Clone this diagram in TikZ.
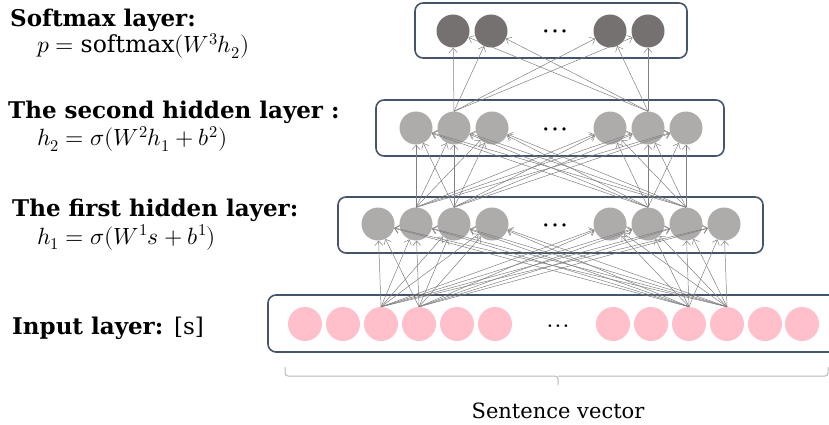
\documentclass[tikz,border=0pt]{standalone}
\usepackage{fontspec}
\usepackage{unicode-math}
\setmainfont{DejaVu Serif}
\setmathfont{Latin Modern Math}
\usetikzlibrary{arrows.meta}
\newcommand\unitdots{\textbullet\hspace{2.6pt}\textbullet\hspace{2.6pt}\textbullet}
\begin{document}
\begin{tikzpicture}[x = 1pt, y = -1pt]
\definecolor{boxblue}{RGB}{68,84,106}
\definecolor{softgray}{RGB}{118,113,113}
\definecolor{hidgray}{RGB}{174,171,171}
\definecolor{inpink}{RGB}{255,192,203}
\definecolor{linkgray}{RGB}{128,128,128}
\definecolor{bracegray}{RGB}{185,185,185}
\tikzset{
  layerbox/.style = {draw = boxblue, line width = 1.6pt, rounded corners = 8pt},
  unit/.style = {circle, inner sep = 0pt, minimum size = 33pt},
  link/.style = {-{Straight Barb[length = 4.5pt, width = 8pt]}, draw = linkgray, line width = 0.5pt},
  heading/.style = {anchor = base west, inner sep = 0pt, font = \bfseries\fontsize{23}{23}\selectfont},
  formula/.style = {anchor = base west, inner sep = 0pt, font = \fontsize{23.5}{23.5}\selectfont},
  dots/.style = {inner sep = 0pt, font = \fontsize{11}{11}\selectfont}
}
\useasboundingbox (0,0) rectangle (829,425);
% layer boxes
\draw [layerbox] (415,3) rectangle (687,58);
\draw [layerbox] (376,100) rectangle (724,156);
\draw [layerbox] (338,197) rectangle (763,253);
\draw [layerbox] (268,295) rectangle (840,352);
% units
\foreach \px [count = \n] in {453,491,610,648} \node [unit, fill = softgray] (s\n) at (\px,31) {};
\foreach \px [count = \n] in {416,454,492,610,648,686} \node [unit, fill = hidgray] (b\n) at (\px,128) {};
\foreach \px [count = \n] in {378,416,454,492,610,648,686,724} \node [unit, fill = hidgray] (a\n) at (\px,224) {};
\foreach \px [count = \n] in {305,343,381,419,457,495,613,651,689,727,765,802} \node [unit, fill = inpink, minimum size = 34pt] (x\n) at (\px,324) {};
\node [dots] (sdots) at (555,33) {\unitdots};
\node [dots] (bdots) at (555,131) {\unitdots};
\node [dots] (adots) at (555,227) {\unitdots};
\node [dots, font = \fontsize{9}{9}\selectfont] (xdots) at (558,327) {\unitdots};
% connections
\foreach \i in {3,4,9,10} \foreach \j in {1,...,8} \draw [link] (x\i.north) -- (a\j);
\foreach \i in {2,3,6,7} \foreach \j in {1,...,6} \draw [link] (a\i.north) -- (b\j);
\foreach \i in {2,5} \foreach \j in {1,...,4} \draw [link] (b\i.north) -- (s\j);
% labels
\node [heading] (softlabel) at (10,27) {Softmax layer:};
\node [formula] (softeq) at (37,53) {$p = \mathrm{softmax}(W^3 h_2)$};
\node [heading] (seclabel) at (8,118) {The second hidden layer :};
\node [formula] (seceq) at (37,146) {$h_2 = \sigma(W^2 h_1 + b^2)$};
\node [heading] (firstlabel) at (12,216) {The first hidden layer:};
\node [formula] (firsteq) at (37,244) {$h_1 = \sigma(W^1 s + b^1)$};
\node [heading] (inlabel) at (12,334) {Input layer: \textmd{[s]}};
% brace
\draw [draw = bracegray, line width = 1pt, rounded corners = 3pt] (285,367) -- (285,376) -- (558,376) -- (558,385);
\draw [draw = bracegray, line width = 1pt, rounded corners = 3pt] (558,376) -- (828,376) -- (828,367);
\node [font = \fontsize{21}{21}\selectfont] (caption) at (558,411) {Sentence vector};
\end{tikzpicture}
\end{document}
